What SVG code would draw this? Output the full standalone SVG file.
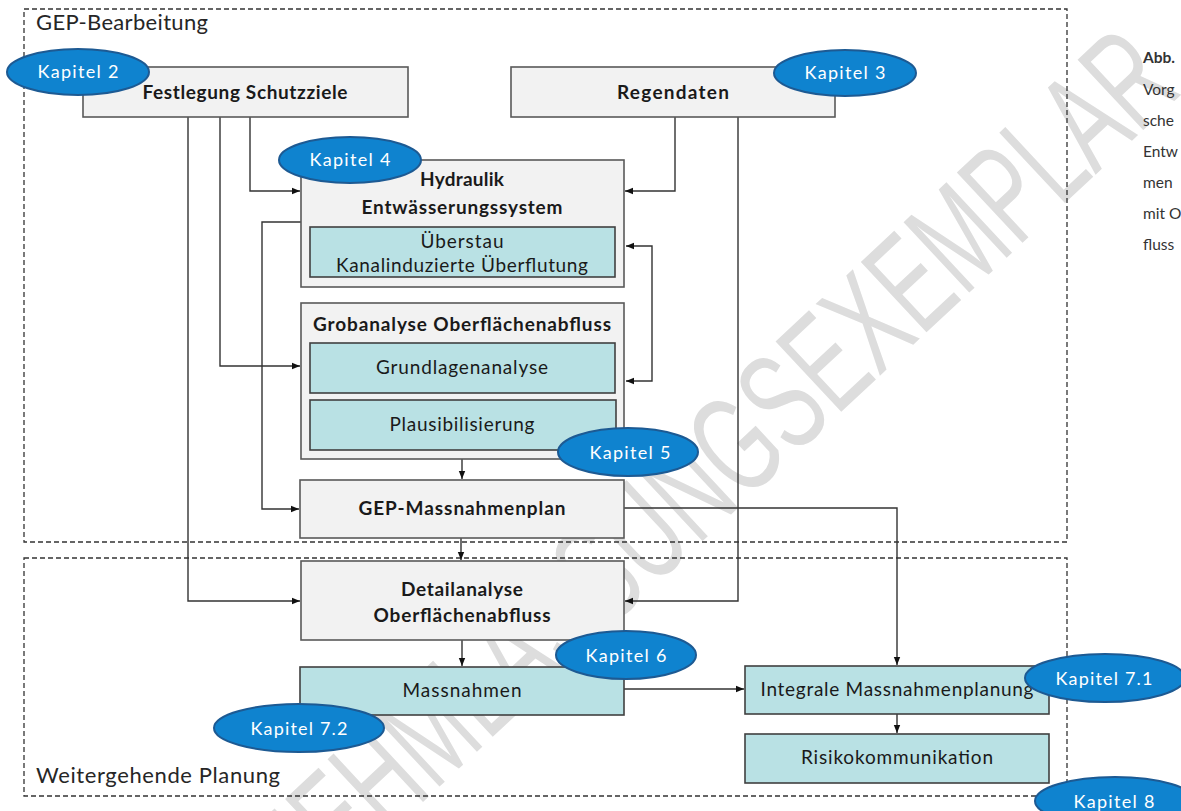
<svg xmlns="http://www.w3.org/2000/svg" width="1181" height="811" viewBox="0 0 1181 811">
  <defs>
    <marker id="arr" viewBox="0 0 10 10" refX="10" refY="5" markerWidth="8" markerHeight="8" orient="auto-start-reverse" markerUnits="userSpaceOnUse">
      <path d="M0,1 L10,5 L0,9 z" fill="#111"/>
    </marker>
    <style>
      .frame { fill: none; stroke: #333; stroke-width: 1.3; stroke-dasharray: 5 3; }
      .box { fill: #f2f2f2; stroke: #595959; stroke-width: 1.6; }
      .sub { fill: #b9e1e4; stroke: #404040; stroke-width: 1.6; }
      .con { fill: none; stroke: #333; stroke-width: 1.4; marker-end: url(#arr); }
      .badge { fill: #0f83cf; stroke: #1d5a93; stroke-width: 2; }
      .bt { font-family: Lato, "Open Sans", sans-serif; font-weight: bold; font-size: 19px; fill: #1a1a1a; text-anchor: middle; }
      .rt { font-family: Lato, "Open Sans", sans-serif; font-size: 19px; fill: #1a1a1a; text-anchor: middle; }
      .kt { font-family: Lato, "Open Sans", sans-serif; font-size: 18px; fill: #ffffff; text-anchor: middle; }
      .lbl { font-family: Lato, "Open Sans", sans-serif; font-size: 22px; fill: #262626; }
      .side { font-family: Lato, "Open Sans", sans-serif; font-size: 15.5px; fill: #333; }
      .wm { font-family: "Liberation Sans", sans-serif; font-size: 140px; fill: #dddddd; text-anchor: middle; }
    </style>
  </defs>

  <rect width="1181" height="811" fill="#ffffff"/>

  <!-- background stamp -->
  <text class="wm" transform="translate(676,566) rotate(-43)" textLength="1390" lengthAdjust="spacingAndGlyphs">VERNEHMLASSUNGSEXEMPLAR</text>

  <!-- phase frames -->
  <g id="frames">
    <rect class="frame" x="24" y="9" width="1043" height="533"/>
    <rect class="frame" x="24" y="558" width="1043" height="238"/>
    <text class="lbl" x="36" y="30" textLength="172">GEP-Bearbeitung</text>
    <text class="lbl" x="36" y="783" textLength="244">Weitergehende Planung</text>
  </g>

  <!-- side caption -->
  <g id="caption">
    <text class="side" x="1143" y="63" font-weight="bold" fill="#222">Abb.</text>
    <text class="side" x="1143" y="95">Vorg</text>
    <text class="side" x="1143" y="126">sche</text>
    <text class="side" x="1143" y="157">Entw</text>
    <text class="side" x="1143" y="188">men</text>
    <text class="side" x="1143" y="219">mit O</text>
    <text class="side" x="1143" y="250">fluss</text>
  </g>

  <!-- connectors -->
  <g id="connectors">
    <path class="con" d="M188,117 V601 H300"/>
    <path class="con" d="M220,117 V366 H300"/>
    <path class="con" d="M250,117 V191 H300"/>
    <path class="con" d="M301,222 H262 V509 H299"/>
    <path class="con" d="M675,117 V191 H625"/>
    <path class="con" d="M738,117 V601 H625"/>
    <path class="con" d="M626,246 H652 V381 H626" marker-start="url(#arr)"/>
    <path class="con" d="M462,459 V479"/>
    <path class="con" d="M461,538 V560"/>
    <path class="con" d="M462,640 V666"/>
    <path class="con" d="M624,508 H897 V665"/>
    <path class="con" d="M624,689 H744"/>
    <path class="con" d="M897,714 V733"/>
  </g>

  <!-- nodes -->
  <g id="festlegung">
    <rect class="box" x="83" y="67" width="325" height="50"/>
    <text class="bt" x="245" y="99" textLength="205">Festlegung Schutzziele</text>
  </g>
  <g id="regendaten">
    <rect class="box" x="511" y="67" width="324" height="50"/>
    <text class="bt" x="673" y="99" textLength="112">Regendaten</text>
  </g>
  <g id="hydraulik">
    <rect class="box" x="301" y="160" width="323" height="127"/>
    <text class="bt" x="462" y="186" textLength="84">Hydraulik</text>
    <text class="bt" x="462" y="214" textLength="201">Entwässerungssystem</text>
    <rect class="sub" x="310" y="227" width="305" height="50"/>
    <text class="rt" x="462" y="248" textLength="83">Überstau</text>
    <text class="rt" x="462" y="272" textLength="252">Kanalinduzierte Überflutung</text>
  </g>
  <g id="grobanalyse">
    <rect class="box" x="301" y="303" width="323" height="156"/>
    <text class="bt" x="462" y="331" textLength="298">Grobanalyse Oberflächenabfluss</text>
    <rect class="sub" x="310" y="343" width="305" height="50"/>
    <text class="rt" x="462" y="374" textLength="172">Grundlagenanalyse</text>
    <rect class="sub" x="310" y="400" width="306" height="50"/>
    <text class="rt" x="462" y="431" textLength="145">Plausibilisierung</text>
  </g>
  <g id="gep-massnahmenplan">
    <rect class="box" x="300" y="480" width="324" height="58"/>
    <text class="bt" x="462" y="515" textLength="207">GEP-Massnahmenplan</text>
  </g>
  <g id="detailanalyse">
    <rect class="box" x="301" y="561" width="323" height="79"/>
    <text class="bt" x="462" y="596" textLength="122">Detailanalyse</text>
    <text class="bt" x="462" y="622" textLength="177">Oberflächenabfluss</text>
  </g>
  <g id="massnahmen">
    <rect class="sub" x="300" y="667" width="324" height="48"/>
    <text class="rt" x="462" y="697" textLength="119">Massnahmen</text>
  </g>
  <g id="integrale">
    <rect class="sub" x="745" y="666" width="304" height="48"/>
    <text class="rt" x="897" y="696" textLength="273">Integrale Massnahmenplanung</text>
  </g>
  <g id="risiko">
    <rect class="sub" x="745" y="734" width="304" height="49"/>
    <text class="rt" x="897" y="764" textLength="192">Risikokommunikation</text>
  </g>

  <!-- chapter badges -->
  <g id="kapitel-2">
    <ellipse class="badge" cx="78" cy="72" rx="71" ry="23"/>
    <text class="kt" x="78" y="78" textLength="81">Kapitel 2</text>
  </g>
  <g id="kapitel-3">
    <ellipse class="badge" cx="845" cy="73" rx="71" ry="23"/>
    <text class="kt" x="845" y="79" textLength="81">Kapitel 3</text>
  </g>
  <g id="kapitel-4">
    <ellipse class="badge" cx="350" cy="160" rx="71" ry="23"/>
    <text class="kt" x="350" y="166" textLength="81">Kapitel 4</text>
  </g>
  <g id="kapitel-5">
    <ellipse class="badge" cx="628" cy="452" rx="70" ry="24"/>
    <text class="kt" x="630" y="459" textLength="81">Kapitel 5</text>
  </g>
  <g id="kapitel-6">
    <ellipse class="badge" cx="626" cy="655" rx="70" ry="24"/>
    <text class="kt" x="626" y="662" textLength="81">Kapitel 6</text>
  </g>
  <g id="kapitel-7-1">
    <ellipse class="badge" cx="1105" cy="678" rx="80" ry="24"/>
    <text class="kt" x="1104" y="685" textLength="97">Kapitel 7.1</text>
  </g>
  <g id="kapitel-7-2">
    <ellipse class="badge" cx="299" cy="728" rx="85" ry="24"/>
    <text class="kt" x="299" y="735" textLength="97">Kapitel 7.2</text>
  </g>
  <g id="kapitel-8">
    <ellipse class="badge" cx="1115" cy="801" rx="80" ry="24"/>
    <text class="kt" x="1114" y="808" textLength="81">Kapitel 8</text>
  </g>
</svg>
